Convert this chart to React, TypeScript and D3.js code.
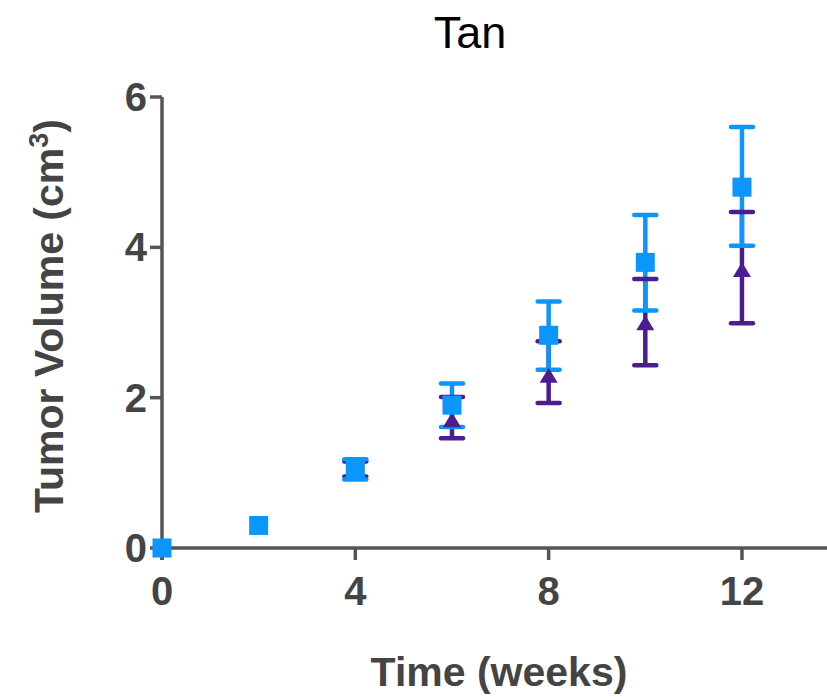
import React from "react";
import * as d3 from "d3";

const weeks = [0, 2, 4, 6, 8, 10, 12];

// blue squares
const squareMean = [0, 0.3, 1.05, 1.9, 2.83, 3.8, 4.8];
const squareLow = [0, 0.3, 0.91, 1.61, 2.37, 3.16, 4.02];
const squareHigh = [0, 0.3, 1.18, 2.19, 3.28, 4.43, 5.6];

// purple triangles
const triMean = [0, 0.3, 1.05, 1.7, 2.29, 2.99, 3.7];
const triLow = [0, 0.3, 0.95, 1.46, 1.93, 2.43, 2.99];
const triHigh = [0, 0.3, 1.15, 2.01, 2.75, 3.58, 4.47];

const xTicks = [0, 4, 8, 12];
const yTicks = [0, 2, 4, 6];

const BLUE = "#0a96fb";
const PURPLE = "#4c1d8f";
const AXIS = "#555555";
const TEXT = "#444444";
const FONT = "'Liberation Sans', Arial, sans-serif";

export default function App() {
  const width = 827;
  const height = 697;

  const x = d3.scaleLinear().domain([0, 14]).range([162, 162 + 14 * 48.33]);
  const y = d3.scaleLinear().domain([0, 6]).range([548, 97]);

  const capW = 11;

  const errorLines = (low: number[], high: number[], color: string) =>
    weeks.map((w, i) =>
      high[i] - low[i] > 0.01 ? (
        <line key={"l" + i} x1={x(w)} x2={x(w)} y1={y(low[i])} y2={y(high[i])}
          stroke={color} strokeWidth={4.5} />
      ) : null
    );

  const errorCaps = (low: number[], high: number[], color: string) =>
    weeks.map((w, i) =>
      high[i] - low[i] > 0.01 ? (
        <g key={"c" + i} stroke={color} strokeWidth={4.5} strokeLinecap="round">
          <line x1={x(w) - capW} x2={x(w) + capW} y1={y(low[i])} y2={y(low[i])} />
          <line x1={x(w) - capW} x2={x(w) + capW} y1={y(high[i])} y2={y(high[i])} />
        </g>
      ) : null
    );

  return (
    <svg width={width} height={height}
      style={{ position: "absolute", left: 0, top: 0, background: "#fff" }}>
      <text x={470} y={48} textAnchor="middle" fontFamily={FONT} fontSize={45} fill="#000">
        Tan
      </text>

      {/* axes */}
      <g stroke={AXIS} strokeWidth={3.5}>
        <line x1={x(0)} x2={x(0)} y1={y(6)} y2={y(0) + 12} />
        <line x1={x(0) - 2} x2={width} y1={y(0)} y2={y(0)} />
        {yTicks.map((t) => (
          <line key={"yt" + t} x1={x(0) - 12} x2={x(0)} y1={y(t)} y2={y(t)} />
        ))}
        {xTicks.map((t) => (
          <line key={"xt" + t} x1={x(t)} x2={x(t)} y1={y(0)} y2={y(0) + 12} />
        ))}
      </g>

      <g fontFamily={FONT} fontWeight="bold" fontSize={40} fill={TEXT}>
        {yTicks.map((t) => (
          <text key={"yl" + t} x={147} y={y(t) + 14} textAnchor="end">{t}</text>
        ))}
        {xTicks.map((t) => (
          <text key={"xl" + t} x={x(t)} y={605} textAnchor="middle">{t}</text>
        ))}
        <text x={499} y={686} textAnchor="middle" fontSize={41}>Time (weeks)</text>
        <text transform="translate(63,316) rotate(-90)" textAnchor="middle" fontSize={41}>
          Tumor Volume (cm<tspan fontSize={27} dy={-15}>3</tspan><tspan dy={15}>)</tspan>
        </text>
      </g>

      {/* error bars */}
      {errorLines(triLow, triHigh, PURPLE)}
      {errorLines(squareLow, squareHigh, BLUE)}
      {errorCaps(triLow, triHigh, PURPLE)}
      {errorCaps(squareLow, squareHigh, BLUE)}

      {/* markers */}
      {weeks.map((w, i) => {
        const cx = x(w);
        const cy = y(triMean[i]);
        return (
          <path key={"t" + i} fill={PURPLE}
            d={`M${cx},${cy - 8}L${cx + 9},${cy + 7}L${cx - 9},${cy + 7}Z`} />
        );
      })}
      {weeks.map((w, i) => (
        <rect key={"s" + i} x={x(w) - 9.5} y={y(squareMean[i]) - 9.5}
          width={19} height={19} fill={BLUE} />
      ))}
    </svg>
  );
}
